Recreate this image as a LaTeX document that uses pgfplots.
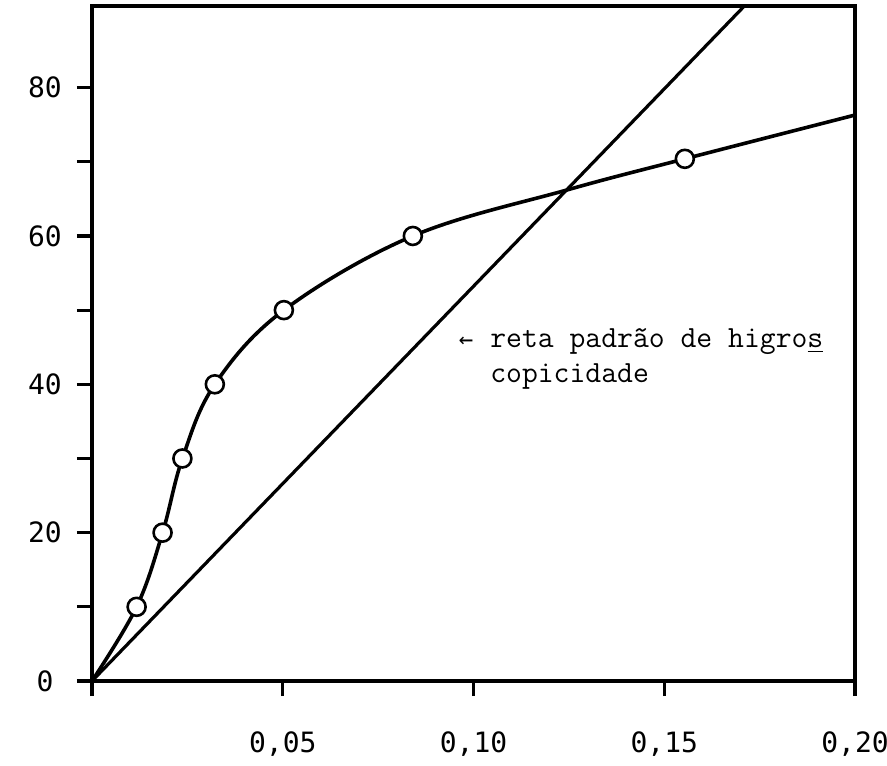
\documentclass[border=0pt]{standalone}
\usepackage{pgfplots}
\pgfplotsset{compat=1.18}
\usepackage{fontspec}
\newfontfamily\tickfont{DejaVu Sans Mono}
\newfontfamily\arrowfont{DejaVu Sans Mono}
\begin{document}
\begin{tikzpicture}
\path[use as bounding box] (-46pt,-42pt) rectangle (397.5pt,340.5pt);
\begin{axis}[
  scale only axis,
  width=381.5pt, height=337.5pt,
  xmin=0, xmax=0.2, ymin=0, ymax=91,
  axis line style={line width=2.1pt},
  tick style={line width=1.6pt, black},
  tick align=outside,
  major tick length=7.5pt,
  tick pos=left,
  xtick={0,0.05,0.1,0.15,0.2},
  xticklabels={{},{0,05},{0,10},{0,15},{0,20}},
  ytick={0,10,20,30,40,50,60,70,80},
  yticklabels={0,,20,,40,,60,,80},
  xticklabel style={font=\tickfont\fontsize{14}{16}\selectfont, anchor=center, yshift=-24pt},
  yticklabel style={font=\tickfont\fontsize{14}{16}\selectfont, anchor=center, xshift=-16pt},
  clip=true,
]
\addplot[black, line width=1.6pt] coordinates {(0,0) (0.171,91)};
\addplot[black, line width=1.8pt, smooth, tension=0.6] coordinates {
  (0,0) (0.0117,10) (0.0185,20) (0.0237,30) (0.0322,40) (0.0503,50)
  (0.0841,60) (0.1245,66.2) (0.1554,70.4) (0.2,76.3)};
\addplot[only marks, mark=*, mark size=4.5pt, mark options={fill=white, draw=black, line width=1.3pt}] coordinates {
  (0.0117,10) (0.0185,20) (0.0237,30) (0.0322,40) (0.0503,50) (0.0841,60) (0.1554,70.4)};
\node[anchor=base west, inner sep=0pt, font=\ttfamily\fontsize{15.4}{18}\selectfont] at (axis cs:0.0958,44.9) {\makebox[8.1pt]{\arrowfont\fontsize{12}{14}\selectfont ←}\makebox[8.1pt]{}reta padrão de higro\underline{s}};
\node[anchor=base west, inner sep=0pt, font=\ttfamily\fontsize{15.4}{18}\selectfont] at (axis cs:0.0958,40.2) {\makebox[16.2pt]{}copicidade};
\end{axis}
\end{tikzpicture}
\end{document}
